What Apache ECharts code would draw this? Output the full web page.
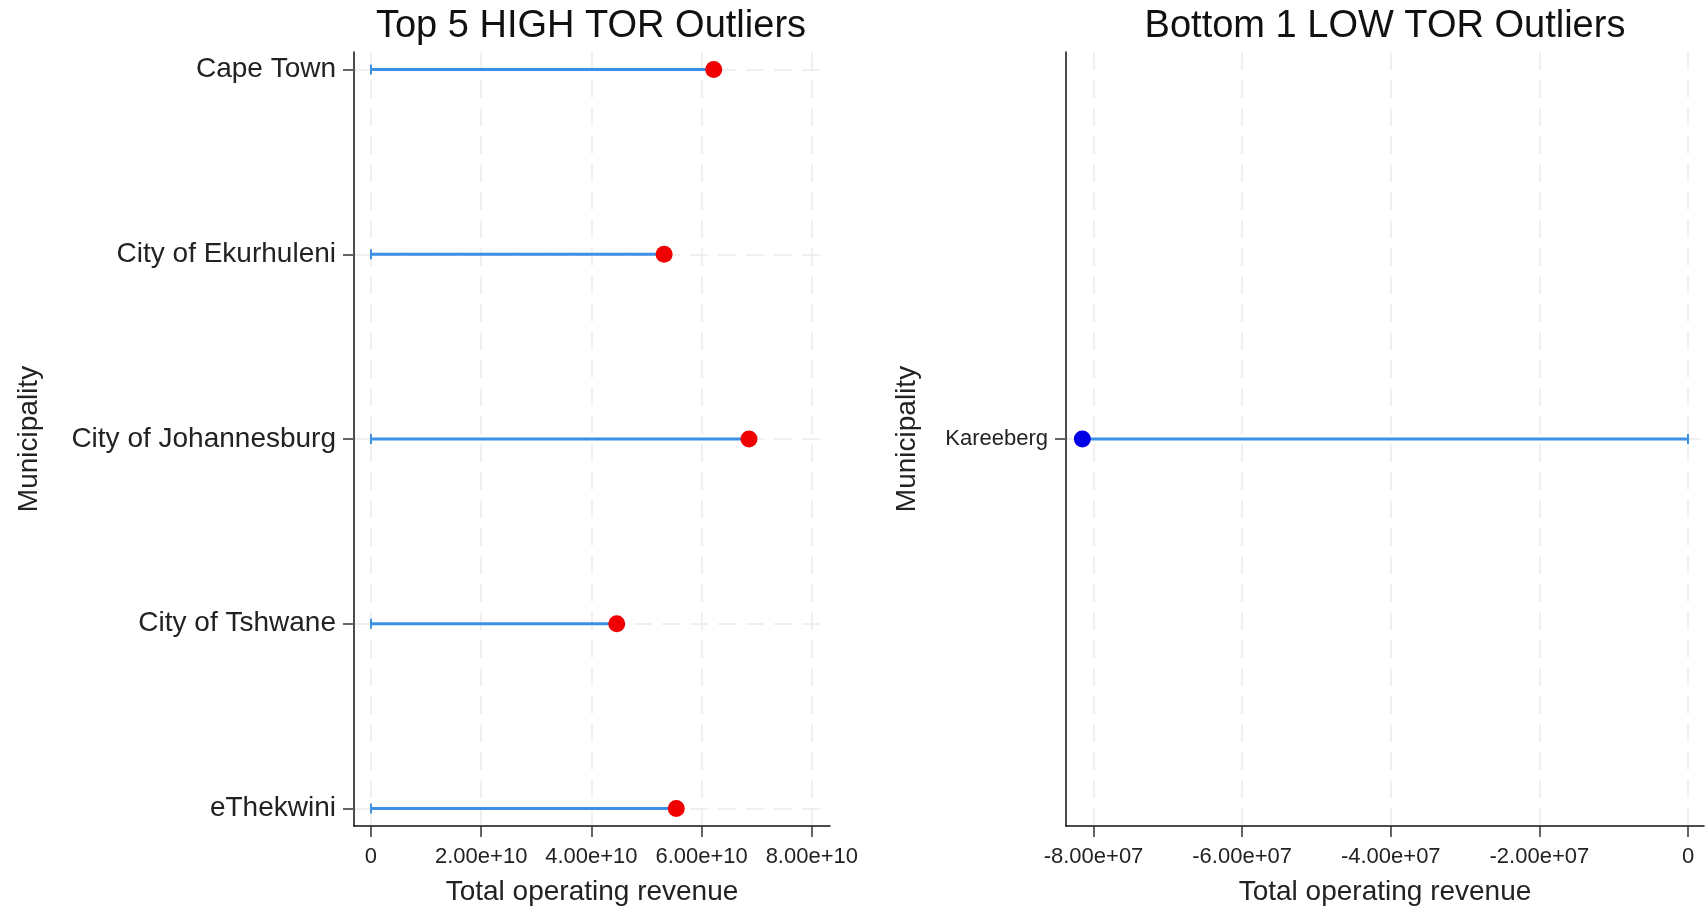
<!DOCTYPE html>
<html>
<head>
<meta charset="utf-8">
<script src="https://cdn.jsdelivr.net/npm/echarts@6/dist/echarts.min.js"></script>
<style>
html,body{margin:0;padding:0;background:#fff;}
#chart{width:1707px;height:911px;}
</style>
</head>
<body>
<div id="chart"></div>
<script>
// ---- data ----
const highCategories = ['Cape Town', 'City of Ekurhuleni', 'City of Johannesburg', 'City of Tshwane', 'eThekwini'];
const highValues = [6.22e10, 5.32e10, 6.86e10, 4.46e10, 5.54e10];
const lowCategories = ['Kareeberg'];
const lowValues = [-8.15e7];
const highTicks = [0, 2e10, 4e10, 6e10, 8e10];
const lowTicks = [-8e7, -6e7, -4e7, -2e7, 0];
const leftTitle = 'Top 5 HIGH TOR Outliers';
const rightTitle = 'Bottom 1 LOW TOR Outliers';
const xName = 'Total operating revenue';
const yName = 'Municipality';

// ---- styling ----
const FONT = "'Liberation Sans', Arial, sans-serif";
const LINE_BLUE = '#3b90e6';
const gridLine = { show: true, lineStyle: { color: '#ececec', width: 1.5, type: [18, 10] } };

function sci(v) {
  if (v === 0) return '0';
  const s = v.toExponential(2);
  const parts = s.split('e');
  const sign = parts[1][0];
  let d = parts[1].slice(1);
  if (d.length < 2) d = '0' + d;
  return parts[0] + 'e' + sign + d;
}

function lollipopRender(capSize) {
  return function (params, api) {
    const v = api.value(0), c = api.value(1);
    const p0 = api.coord([0, c]);
    const p1 = api.coord([v, c]);
    return {
      type: 'group',
      children: [
        { type: 'line', shape: { x1: p0[0], y1: p0[1], x2: p1[0], y2: p1[1] },
          style: { stroke: LINE_BLUE, lineWidth: 3 } },
        { type: 'line', shape: { x1: p0[0], y1: p0[1] - capSize, x2: p0[0], y2: p0[1] + capSize },
          style: { stroke: LINE_BLUE, lineWidth: 2 } }
      ]
    };
  };
}

const highData = highValues.map((v, i) => [v, i]);
const lowData = lowValues.map((v, i) => [v, i]);
const highIdx = highCategories.map((c, i) => i);
const lowIdx = lowCategories.map((c, i) => i);

function xAxisCfg(gridIndex, min, max, ticks) {
  return {
    type: 'value', gridIndex, min, max,
    name: xName, nameLocation: 'middle', nameGap: 52,
    nameTextStyle: { fontSize: 28, color: '#222', fontFamily: FONT },
    axisLine: { show: true, onZero: false, lineStyle: { color: '#111', width: 1.5 } },
    axisTick: { show: true, length: 11, customValues: ticks, lineStyle: { color: '#333', width: 1.5 } },
    axisLabel: { customValues: ticks, formatter: sci, fontSize: 22, color: '#222', margin: 20, fontFamily: FONT, hideOverlap: false },
    splitLine: gridLine
  };
}

function yAxisCfg(gridIndex, min, max, idx, cats, labelSize, nameGap) {
  return {
    type: 'value', gridIndex, min, max, inverse: true,
    name: yName, nameLocation: 'middle', nameGap, nameRotate: 90,
    nameTextStyle: { fontSize: 28, color: '#222', fontFamily: FONT },
    axisLine: { show: true, onZero: false, lineStyle: { color: '#111', width: 1.5 } },
    axisTick: { show: true, length: 11, customValues: idx, lineStyle: { color: '#666', width: 2 } },
    axisLabel: { customValues: idx, formatter: v => cats[Math.round(v)] || '', fontSize: labelSize, color: '#222', margin: 18, fontFamily: FONT, hideOverlap: false },
    splitLine: gridLine
  };
}

const chart = echarts.init(document.getElementById('chart'), null, { renderer: 'canvas' });
chart.setOption({
  backgroundColor: '#fff',
  animation: false,
  textStyle: { fontFamily: FONT },
  graphic: [
    { type: 'text', x: 591, y: 8, style: { text: leftTitle, fontSize: 38, fill: '#111', fontFamily: FONT, textAlign: 'center', textVerticalAlign: 'top' } },
    { type: 'text', x: 1385, y: 8, style: { text: rightTitle, fontSize: 38, fill: '#111', fontFamily: FONT, textAlign: 'center', textVerticalAlign: 'top' } }
  ],
  grid: [
    { left: 354, width: 476, top: 52, height: 776, containLabel: false },
    { left: 1066, width: 638, top: 52, height: 776, containLabel: false }
  ],
  xAxis: [
    xAxisCfg(0, -3.08e9, 8.33e10, highTicks),
    xAxisCfg(1, -8.37e7, 2.15e6, lowTicks)
  ],
  yAxis: [
    yAxisCfg(0, -0.095, 4.095, highIdx, highCategories, 28, 311),
    yAxisCfg(1, -1, 1, lowIdx, lowCategories, 22, 145)
  ],
  series: [
    { type: 'custom', xAxisIndex: 0, yAxisIndex: 0, renderItem: lollipopRender(5), data: highData, z: 2 },
    { type: 'scatter', xAxisIndex: 0, yAxisIndex: 0, data: highData, symbolSize: 17,
      itemStyle: { color: '#f00000', opacity: 1 }, z: 3 },
    { type: 'custom', xAxisIndex: 1, yAxisIndex: 1, renderItem: lollipopRender(5), data: lowData, z: 2 },
    { type: 'scatter', xAxisIndex: 1, yAxisIndex: 1, data: lowData, symbolSize: 17,
      itemStyle: { color: '#0000e6', opacity: 1 }, z: 3 }
  ]
});
</script>
</body>
</html>
